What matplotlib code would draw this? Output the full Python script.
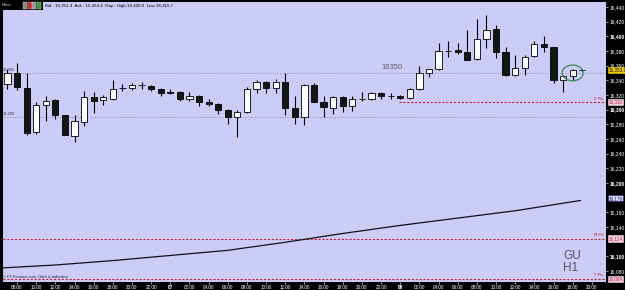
import numpy as np
import matplotlib.pyplot as plt
from matplotlib.patches import Ellipse, Rectangle

plt.rcParams['font.family'] = ['Liberation Sans', 'DejaVu Sans']

# hourly candles, hour counted from day 06 00:00
hours = np.arange(7, 68)
opens = np.array([16335, 16350, 16330, 16269, 16306, 16313, 16292, 16264, 16283, 16317,
                  16313, 16315, 16329, 16329, 16333, 16332, 16328, 16324, 16324, 16315,
                  16319, 16311, 16307, 16300, 16290, 16297, 16328, 16338, 16329, 16338,
                  16302, 16290, 16334, 16311, 16302, 16317, 16305, 16315, 16315, 16322,
                  16318, 16318, 16316, 16328, 16350, 16355, 16380, 16381, 16378, 16369,
                  16397, 16410, 16378, 16347, 16357, 16373, 16390, 16385, 16340, 16346,
                  16354])
highs = np.array([16355, 16364, 16350, 16310, 16318, 16314, 16293, 16292, 16326, 16324,
                  16320, 16340, 16335, 16336, 16337, 16334, 16330, 16328, 16326, 16324,
                  16320, 16314, 16309, 16301, 16300, 16331, 16340, 16339, 16342, 16350,
                  16319, 16335, 16336, 16318, 16318, 16318, 16318, 16324, 16324, 16324,
                  16323, 16320, 16329, 16359, 16356, 16391, 16393, 16391, 16409, 16424,
                  16429, 16416, 16386, 16374, 16375, 16394, 16400, 16386, 16347, 16356,
                  16355])
lows = np.array([16328, 16327, 16265, 16267, 16284, 16287, 16265, 16256, 16278, 16296,
                 16306, 16313, 16326, 16327, 16328, 16326, 16319, 16321, 16312, 16312,
                 16305, 16305, 16294, 16281, 16262, 16296, 16323, 16322, 16322, 16293,
                 16281, 16279, 16310, 16290, 16294, 16297, 16298, 16312, 16313, 16315,
                 16314, 16315, 16315, 16327, 16344, 16354, 16372, 16376, 16367, 16367,
                 16384, 16371, 16346, 16346, 16347, 16372, 16379, 16336, 16324, 16340,
                 16352])
closes = np.array([16350, 16331, 16268, 16306, 16312, 16293, 16266, 16284, 16317, 16312,
                   16317, 16328, 16329, 16334, 16333, 16328, 16322, 16323, 16315, 16319,
                   16311, 16307, 16300, 16290, 16297, 16328, 16338, 16330, 16338, 16302,
                   16290, 16334, 16311, 16303, 16317, 16305, 16315, 16315, 16322, 16318,
                   16318, 16316, 16328, 16350, 16355, 16380, 16380, 16378, 16368, 16397,
                   16409, 16379, 16347, 16357, 16372, 16390, 16385, 16340, 16346, 16354,
                   16354])

# moving average
ma_hours = [6.4, 12, 18, 24, 30, 36, 42, 48, 54, 60, 66.8]
ma_vals = [16084, 16088, 16094, 16101, 16108, 16119, 16131, 16142, 16152, 16162, 16176]

grid_levels = [16350, 16290]
grid_names = ['16,350', '16,290']
pivot_names = ['D Piv', 'M Piv', 'Y Piv']
pivot_vals = [16310, 16124, 16069]
pivot_start = [47.9, 6.0, 6.0]

ytick_vals = [16080, 16100, 16140, 16160, 16200, 16220, 16240, 16260, 16280, 16300,
              16320, 16340, 16360, 16380, 16400, 16420, 16440]
xtick_hours = np.arange(8, 69, 2)

price_boxes = [('16,353.9', 16353.9, '#f5d000', 'black', '#f5d000'),
               ('16,310', 16310, '#f4d4e4', '#c02030', '#f4d4e4'),
               ('16,179', 16179, '#dcdcff', '#101060', '#101060'),
               ('16,124', 16124, '#f4d4e4', '#c02030', '#f4d4e4'),
               ('16,069', 16069, '#f4d4e4', '#c02030', '#f4d4e4')]

W, H = 625, 290
fig = plt.figure(figsize=(W / 100, H / 100), dpi=100, facecolor='black')
ax = fig.add_axes([2 / W, 8 / H, 604 / W, 280 / H])
ax.set_facecolor('#ccccf8')
ax.set_xlim(6.43, 69.48)
ax.set_ylim(16064.8, 16446.8)

# horizontal levels
for v, name in zip(grid_levels, grid_names):
    ax.axhline(v, color='#7a7a8a', lw=0.6, ls=(0, (1, 2)), zorder=1)
    ax.text(6.55, v + 2, name, fontsize=2.8, color='#333344', va='bottom', ha='left')
for name, v, x0 in zip(pivot_names, pivot_vals, pivot_start):
    ax.hlines(v, x0, 69.48, color='#c82030', lw=0.8, ls=(0, (2, 1.5)), zorder=1)
    ax.text(69.2, v + 2, name, fontsize=2.8, color='#c82030', va='bottom', ha='right')

ax.text(46.0, 16357.5, '16350', fontsize=5.5, color='#5a5a6a', va='center', ha='left')

# moving average
ax.plot(ma_hours, ma_vals, color='#10101a', lw=0.9, zorder=2)

# candles
up = closes >= opens
ax.vlines(hours, lows, highs, color='black', lw=0.8, zorder=2)
ax.bar(hours, np.abs(closes - opens), bottom=np.minimum(opens, closes), width=0.65,
       color=np.where(up, 'white', '#151515'), edgecolor='black', linewidth=0.6, zorder=3)

ax.add_patch(Ellipse((66.0, 16350), 2.2, 21.5, fill=False, ec='#3a8a50', lw=0.9, zorder=4))

# axes styling
for s in ['top', 'bottom', 'right']:
    ax.spines[s].set_visible(False)
ax.spines['left'].set_color('black')
ax.yaxis.tick_right()
ax.set_yticks(ytick_vals)
ax.set_yticklabels([f"{v:,}" for v in ytick_vals])
for lab, v in zip(ax.get_yticklabels(), ytick_vals):
    if v % 100 == 0:
        lab.set_fontweight('bold')
ax.tick_params(axis='y', colors='white', labelsize=3.5, length=1.5, width=0.5, pad=1)

ax.set_xticks(xtick_hours)
xlabels = []
for h in xtick_hours:
    if h % 24 == 0:
        xlabels.append(f"{6 + h // 24:02d}")
    else:
        xlabels.append(f"{h % 24:02d}:00")
ax.set_xticklabels(xlabels)
for lab, h in zip(ax.get_xticklabels(), xtick_hours):
    if h % 24 == 0:
        lab.set_fontweight('bold')
ax.tick_params(axis='x', colors='white', labelsize=3.3, length=1.5, width=0.5, pad=0.5)

for text, v, fc, tc, ec in price_boxes:
    ax.text(1.004, v, text, transform=ax.get_yaxis_transform(), ha='left', va='center',
            fontsize=3.3, color=tc, clip_on=False, zorder=6,
            bbox=dict(boxstyle='square,pad=0.15', fc=fc, ec=ec, lw=0.4))

# labels inside the chart
ax.text(0.929, 0.115, 'GU\nH1', transform=ax.transAxes, fontsize=8.5, color='#55556a',
        va='top', ha='left', linespacing=1.0)
ax.text(0.002, 0.012, '\u00a9 FT-Finance.com, Data is indicative', transform=ax.transAxes,
        fontsize=2.9, color='#222233', va='bottom', ha='left')

# toolbar top-left
fig.add_artist(Rectangle((0, 1 - 10 / H), 43 / W, 10 / H, transform=fig.transFigure,
                         fc='black', ec='none', zorder=10))
fig.text(2 / W, 1 - 5.5 / H, 'Price', fontsize=3.2, color='#dddddd', va='center', zorder=11)
for x0, c in [(23, '#888888'), (27.5, '#cc2020'), (32, '#999999'), (37, '#30a030')]:
    fig.add_artist(Rectangle((x0 / W, 1 - 8.5 / H), 4 / W, 6 / H, transform=fig.transFigure,
                             fc=c, ec='#cccccc', lw=0.3, zorder=11))
fig.text(45 / W, 1 - 5.5 / H, 'Bid : 16,351.4  Ask : 16,354.4  Day : High 16,420.0  Low 16,315.7',
         fontsize=3.2, color='black', va='center')

fig.savefig('out.png', dpi=100, facecolor=fig.get_facecolor())
